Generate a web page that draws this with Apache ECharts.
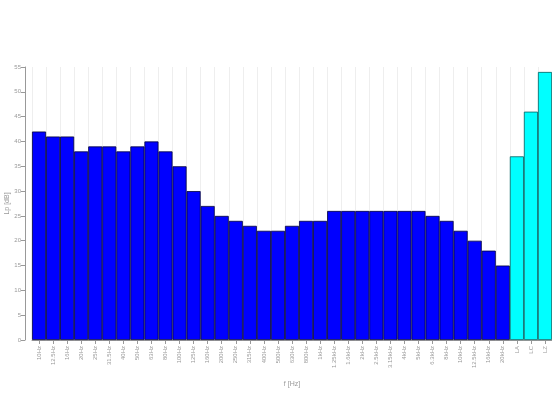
<!DOCTYPE html>
<html><head><meta charset="utf-8">
<script src="https://cdn.jsdelivr.net/npm/echarts@6/dist/echarts.min.js"></script>
<style>html,body{margin:0;padding:0;background:#fff}#c{width:552px;height:394px}</style>
</head><body><div id="c"></div>
<script>
const bandLabels = ["10Hz","12.5Hz","16Hz","20Hz","25Hz","31.5Hz","40Hz","50Hz","63Hz","80Hz","100Hz","125Hz","160Hz","200Hz","250Hz","315Hz","400Hz","500Hz","630Hz","800Hz","1kHz","1.25kHz","1.6kHz","2kHz","2.5kHz","3.15kHz","4kHz","5kHz","6.3kHz","8kHz","10kHz","12.5kHz","16kHz","20kHz"];
const bandValues = [42,41,41,38,39,39,38,39,40,38,35,30,27,25,24,23,22,22,23,24,24,26,26,26,26,26,26,26,25,24,22,20,18,15];
const totalLabels = ["LA","LC","LZ"];
const totalValues = [37,46,54];
const yTicks = {min:0, max:55, interval:5};

const categories = bandLabels.concat(totalLabels);
const data = bandValues.map(v => ({value:v, itemStyle:{color:'#0000ff', borderColor:'#00003a'}}))
  .concat(totalValues.map(v => ({value:v, itemStyle:{color:'#00ffff', borderColor:'#006060'}})));

const chart = echarts.init(document.getElementById('c'), null, {renderer:'canvas'});
chart.setOption({
  animation:false,
  grid:{left:32, right:0, top:67, bottom:54, containLabel:false, outerBoundsMode:'none'},
  xAxis:{
    type:'category', data:categories,
    name:'f [Hz]', nameLocation:'middle', nameGap:41, nameMoveOverlap:false,
    nameTextStyle:{fontSize:7, color:'#999', fontFamily:'Liberation Sans'},
    axisLine:{show:true, lineStyle:{color:'#999', width:1}},
    axisTick:{show:true, alignWithLabel:true, length:4, lineStyle:{color:'#999'}},
    axisLabel:{rotate:90, fontSize:6, color:'#999', margin:6, interval:0, fontFamily:'Liberation Sans'},
    splitLine:{show:true, interval:0, lineStyle:{color:'#eeeeee', width:1}}
  },
  yAxis:{
    type:'value', min:yTicks.min, max:yTicks.max, interval:yTicks.interval,
    offset:7,
    name:'Lp [dB]', nameLocation:'middle', nameGap:14, nameRotate:90, nameMoveOverlap:false,
    nameTextStyle:{fontSize:7, color:'#999', fontFamily:'Liberation Sans'},
    axisLine:{show:true, lineStyle:{color:'#999', width:1}},
    axisTick:{show:true, length:4, lineStyle:{color:'#999'}},
    axisLabel:{fontSize:6, color:'#999', margin:4, fontFamily:'Liberation Sans'},
    splitLine:{show:false}
  },
  series:[{
    type:'bar', data:data, barCategoryGap:'0%',
    itemStyle:{borderWidth:0.8}
  }]
});
</script></body></html>
